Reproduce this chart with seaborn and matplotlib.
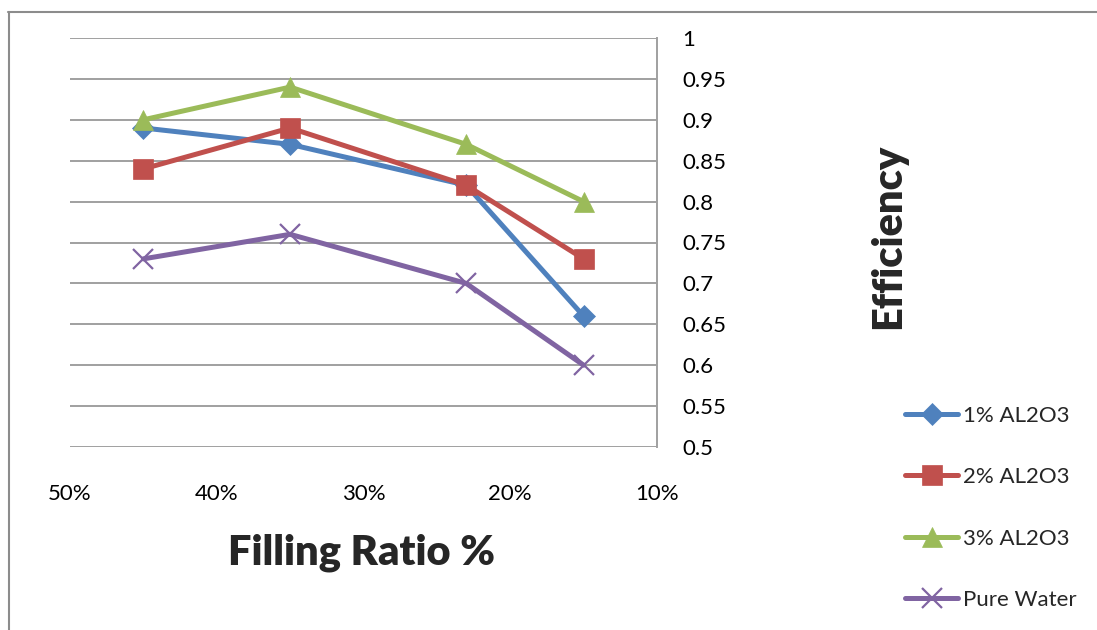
import matplotlib
matplotlib.use("Agg")
import matplotlib.pyplot as plt
from matplotlib.lines import Line2D
import seaborn as sns
import pandas as pd

# Filling ratio (%) and thermal efficiency for each working fluid
filling_ratio = [45, 35, 23, 15]
eff_1pct = [0.89, 0.87, 0.82, 0.66]
eff_2pct = [0.84, 0.89, 0.82, 0.73]
eff_3pct = [0.90, 0.94, 0.87, 0.80]
eff_water = [0.73, 0.76, 0.70, 0.60]
series_names = ["1% AL2O3", "2% AL2O3", "3% AL2O3", "Pure Water"]
x_ticks = [50, 40, 30, 20, 10]
x_tick_labels = ["50%", "40%", "30%", "20%", "10%"]
y_ticks = [0.5, 0.55, 0.6, 0.65, 0.7, 0.75, 0.8, 0.85, 0.9, 0.95, 1.0]
y_tick_labels = ["0.5", "0.55", "0.6", "0.65", "0.7", "0.75", "0.8", "0.85", "0.9", "0.95", "1"]

colors = ["#4F81BD", "#C0504D", "#9BBB59", "#8064A2"]
markers = ["D", "s", "^", "x"]
msizes = [11.5, 14, 15, 14]
LW = 3.6

sns.set_theme(style="white")
plt.rcParams["font.family"] = ["Lato", "DejaVu Sans"]

rows = []
for name, vals in zip(series_names, [eff_1pct, eff_2pct, eff_3pct, eff_water]):
    for x, v in zip(filling_ratio, vals):
        rows.append({"Filling Ratio": x, "Efficiency": v, "Series": name})
df = pd.DataFrame(rows)

fig = plt.figure(figsize=(10.97, 6.30), dpi=100)
ax = fig.add_axes([70 / 1097, 1 - 447 / 630, (657 - 70) / 1097, (447 - 38) / 630])

for name, c, m, ms in zip(series_names, colors, markers, msizes):
    sub = df[df["Series"] == name]
    sns.lineplot(data=sub, x="Filling Ratio", y="Efficiency", ax=ax, color=c,
                 marker=m, markersize=ms, markeredgecolor=c,
                 markeredgewidth=1.6 if m == "x" else 0.5,
                 linewidth=LW, label=name, legend=False)

ax.set_xlim(50, 10)
ax.set_ylim(0.5, 1.0)
ax.set_xticks(x_ticks)
ax.set_xticklabels(x_tick_labels, fontsize=16)
ax.set_yticks(y_ticks)
ax.set_yticklabels(y_tick_labels, fontsize=16)
ax.yaxis.tick_right()
ax.tick_params(axis="y", which="both", length=0, pad=18, colors="black")
ax.tick_params(axis="x", which="both", length=0, pad=27, colors="black")
for lab in ax.get_yticklabels():
    lab.set_horizontalalignment("left")

ax.grid(axis="y", color="#A0A0A0", linewidth=1.4)
ax.grid(axis="x", visible=False)
for side in ["left", "top", "bottom"]:
    ax.spines[side].set_visible(False)
ax.spines["right"].set_color("#A0A0A0")
ax.spines["right"].set_linewidth(1.4)

ax.set_xlabel("")
ax.set_ylabel("")
fig.text(362 / 1097, 1 - 553 / 630, "Filling Ratio %", fontsize=30, fontweight="heavy",
         ha="center", va="center")
fig.text(888 / 1097, 1 - 236 / 630, "Efficiency", fontsize=30, fontweight="heavy",
         ha="center", va="center", rotation=90)

handles = [Line2D([0], [0], color=c, marker=m, markersize=ms, linewidth=LW,
                  markeredgecolor=c, markeredgewidth=1.6 if m == "x" else 0.5)
           for c, m, ms in zip(colors, markers, msizes)]
fig.legend(handles, series_names, loc="upper left",
           bbox_to_anchor=(896 / 1097, 1 - 397 / 630), frameon=False,
           fontsize=16, handlelength=2.4, handletextpad=0.2, labelspacing=1.86,
           borderaxespad=0)

# Outer chart frame
fig.add_artist(Line2D([8 / 1097, 1.0], [1 - 12 / 630, 1 - 12 / 630],
                      transform=fig.transFigure, color="#8C8C8C", linewidth=1.5))
fig.add_artist(Line2D([9 / 1097, 9 / 1097], [0.0, 1 - 12 / 630],
                      transform=fig.transFigure, color="#8C8C8C", linewidth=1.5))

fig.savefig("out.png", dpi=100)
